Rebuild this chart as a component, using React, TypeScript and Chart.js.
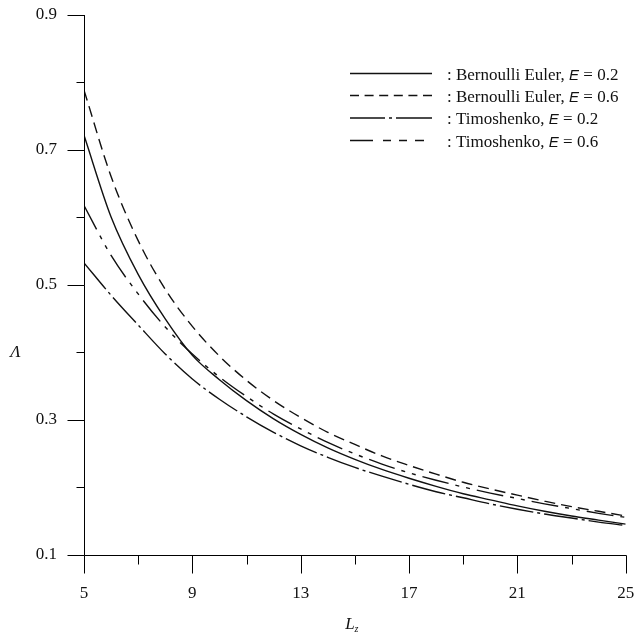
import React, { useEffect, useRef } from "react";
import { Chart, registerables } from "chart.js";

Chart.register(...registerables);

// ---- data ----
const Lz = [5, 6, 7, 8, 9, 10, 11, 12, 13, 14, 15, 16, 17, 18, 19, 20, 21, 22, 23, 24, 25];
const bernoulliE02 = [0.721, 0.600, 0.515, 0.449, 0.395, 0.359, 0.328, 0.301, 0.278, 0.258, 0.241, 0.226, 0.213, 0.201, 0.190, 0.181, 0.172, 0.164, 0.157, 0.151, 0.145];
const bernoulliE06 = [0.788, 0.660, 0.565, 0.493, 0.438, 0.394, 0.358, 0.328, 0.303, 0.281, 0.263, 0.246, 0.232, 0.219, 0.207, 0.197, 0.188, 0.179, 0.171, 0.164, 0.157];
const timoshenkoE02 = [0.532, 0.484, 0.440, 0.397, 0.360, 0.330, 0.304, 0.281, 0.261, 0.244, 0.229, 0.216, 0.204, 0.193, 0.184, 0.175, 0.167, 0.160, 0.154, 0.148, 0.143];
const timoshenkoE06 = [0.617, 0.543, 0.486, 0.437, 0.397, 0.363, 0.334, 0.308, 0.286, 0.266, 0.249, 0.234, 0.221, 0.210, 0.200, 0.191, 0.183, 0.175, 0.168, 0.161, 0.155];

const xTickLabels = [5, 9, 13, 17, 21, 25];
const yTickLabels = [0.1, 0.3, 0.5, 0.7, 0.9];
const legendNames = [": Bernoulli Euler, ", ": Bernoulli Euler, ", ": Timoshenko, ", ": Timoshenko, "];
const legendE = ["0.2", "0.6", "0.2", "0.6"];

const SERIF = '"Liberation Serif", "Times New Roman", serif';
const INK = "#111";

const plotDashes: number[][] = [[], [11, 6], [34, 4, 3, 4], [27, 7, 4, 7, 4, 7]];
const legendDashes: number[][] = [[], [9, 5.6], [35, 4, 3, 4, 100], [23, 10, 8, 8, 8, 8, 9, 100]];

const decorPlugin = {
  id: "decor",
  afterDraw(chart: any) {
    const { ctx, chartArea, scales } = chart;
    const xs = scales.x;
    const ys = scales.y;
    ctx.save();
    ctx.strokeStyle = "#000";
    ctx.lineWidth = 1;
    const left = Math.round(chartArea.left) + 0.5;
    const bottom = Math.round(chartArea.bottom) + 0.5;
    ctx.beginPath();
    ctx.moveTo(left, Math.round(ys.getPixelForValue(0.9)));
    ctx.lineTo(left, bottom);
    ctx.moveTo(left, bottom);
    ctx.lineTo(Math.round(xs.getPixelForValue(25)) + 0.5, bottom);
    // y ticks
    for (let i = 1; i <= 9; i++) {
      const v = i / 10;
      const y = Math.round(ys.getPixelForValue(v)) + 0.5;
      const major = yTickLabels.some((t) => Math.abs(t - v) < 1e-6);
      ctx.moveTo(left, y);
      ctx.lineTo(left - (major ? 17 : 8), y);
    }
    // x ticks
    for (let v = 5; v <= 25; v += 2) {
      const x = Math.round(xs.getPixelForValue(v)) + 0.5;
      const major = xTickLabels.includes(v);
      ctx.moveTo(x, bottom);
      ctx.lineTo(x, bottom + (major ? 18 : 9));
    }
    ctx.stroke();

    // axis titles
    ctx.fillStyle = INK;
    ctx.textAlign = "center";
    ctx.textBaseline = "alphabetic";
    ctx.font = `italic 17px ${SERIF}`;
    ctx.fillText("\u039B", 15.5, 357);
    ctx.fillText("L", 350, 629);
    ctx.font = `italic 10px ${SERIF}`;
    ctx.fillText("z", 356.5, 632);

    // legend
    const rows = [73.5, 95.5, 118, 140.5];
    for (let i = 0; i < 4; i++) {
      const y = rows[i];
      ctx.setLineDash(legendDashes[i]);
      ctx.lineWidth = 1.4;
      ctx.strokeStyle = INK;
      ctx.beginPath();
      ctx.moveTo(350, y);
      ctx.lineTo(432, y);
      ctx.stroke();
      ctx.setLineDash([]);
      ctx.textAlign = "left";
      let x = 447;
      const base = y + 6;
      ctx.font = `17px ${SERIF}`;
      ctx.fillText(legendNames[i], x, base);
      x += ctx.measureText(legendNames[i]).width;
      ctx.font = 'italic 15px "Liberation Sans", Arial, sans-serif';
      ctx.fillText("E", x, base);
      x += ctx.measureText("E").width;
      ctx.font = `17px ${SERIF}`;
      ctx.fillText(" = " + legendE[i], x, base);
    }
    ctx.restore();
  },
};

export default function App() {
  const ref = useRef<HTMLCanvasElement | null>(null);
  useEffect(() => {
    if (!ref.current) return;
    const mk = (arr: number[]) => Lz.map((x, i) => ({ x, y: arr[i] }));
    const series = [bernoulliE02, bernoulliE06, timoshenkoE02, timoshenkoE06];
    const names = ["Bernoulli Euler, E = 0.2", "Bernoulli Euler, E = 0.6", "Timoshenko, E = 0.2", "Timoshenko, E = 0.6"];
    const chart = new Chart(ref.current, {
      type: "line",
      data: {
        datasets: series.map((s, i) => ({
          label: names[i],
          data: mk(s),
          borderColor: INK,
          borderWidth: 1.4,
          borderDash: plotDashes[i],
          pointRadius: 0,
          fill: false,
          cubicInterpolationMode: "monotone" as const,
        })),
      },
      options: {
        animation: false,
        responsive: true,
        maintainAspectRatio: false,
        layout: { autoPadding: false, padding: { left: 0, right: 9.3, top: 14.5, bottom: 0 } },
        plugins: { legend: { display: false }, tooltip: { enabled: false } },
        scales: {
          x: {
            type: "linear",
            min: 5,
            max: 25,
            grid: { display: false, drawTicks: true, tickLength: 29 },
            border: { display: false },
            ticks: {
              stepSize: 2,
              autoSkip: false,
              maxRotation: 0,
              padding: 0,
              color: INK,
              font: { family: SERIF, size: 17 },
              callback: (v: any) => (xTickLabels.includes(Number(v)) ? String(v) : ""),
            },
            afterFit: (s: any) => {
              s.height = 633 - 554.5;
            },
          },
          y: {
            type: "linear",
            min: 0.1,
            max: 0.9,
            grid: { display: false, drawTicks: true, tickLength: 27 },
            border: { display: false },
            ticks: {
              stepSize: 0.1,
              autoSkip: false,
              padding: 0,
              color: INK,
              font: { family: SERIF, size: 17 },
              callback: (v: any) => {
                const n = Number(v);
                return yTickLabels.some((t) => Math.abs(t - n) < 1e-6) ? n.toFixed(1) : "";
              },
            },
            afterFit: (s: any) => {
              s.width = 84;
            },
          },
        },
      },
      plugins: [decorPlugin],
    });
    return () => chart.destroy();
  }, []);
  return (
    <div style={{ position: "absolute", left: 0, top: 0, width: 635, height: 633, background: "#fff" }}>
      <canvas ref={ref} />
    </div>
  );
}
